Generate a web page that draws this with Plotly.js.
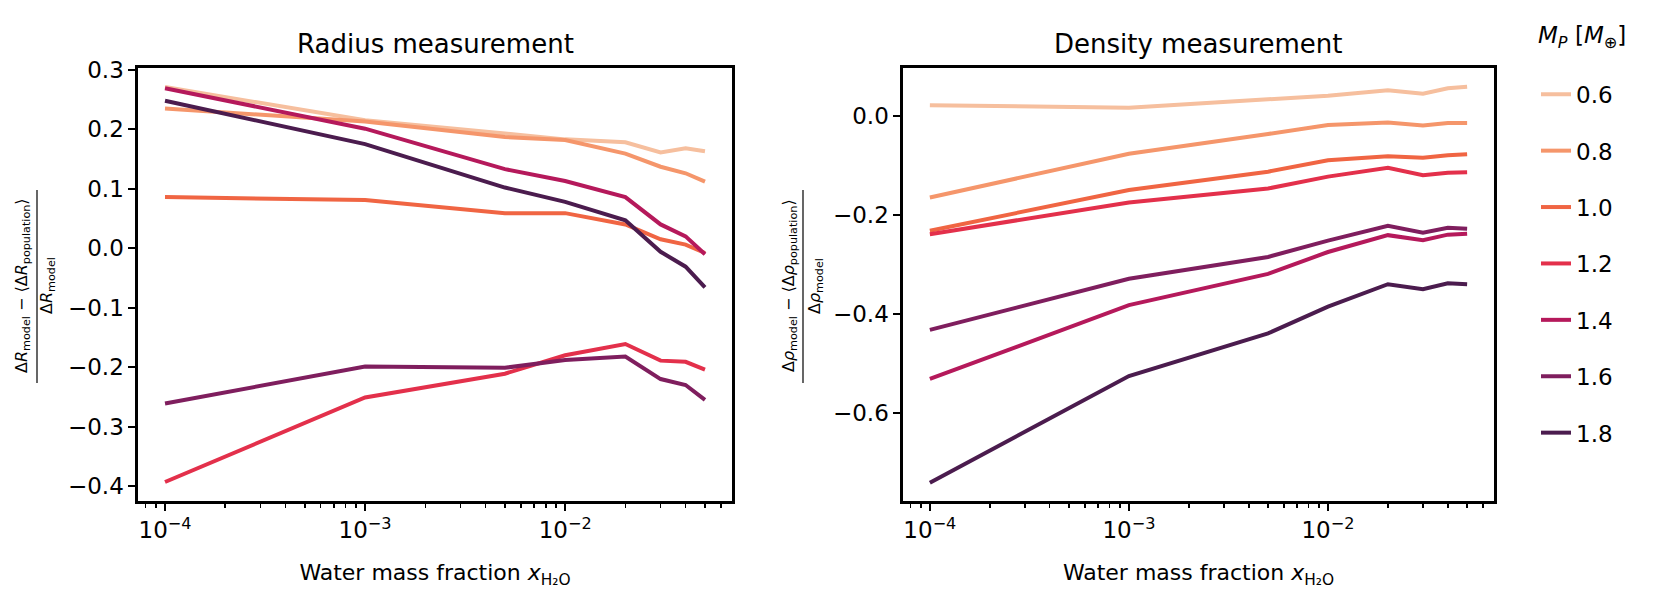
<!DOCTYPE html>
<html><head><meta charset="utf-8">
<script src="https://cdn.plot.ly/plotly-3.0.1.min.js"></script>
<style>body{margin:0;background:#fff}#chart{width:1660px;height:589px}</style>
</head><body><div id="chart"></div>
<script>
// ---- data ----
const xH2O = [1e-4, 1e-3, 5e-3, 1e-2, 2e-2, 3e-2, 4e-2, 5e-2];
const massLabels = ['0.6', '0.8', '1.0', '1.2', '1.4', '1.6', '1.8'];
const lineColors = ['#f6bf9e', '#f5966b', '#f06543', '#e3304b', '#b5195b', '#7f1e5e', '#4b1c4e'];

const radius06 = [0.271, 0.215, 0.193, 0.183, 0.178, 0.161, 0.168, 0.163];
const radius08 = [0.235, 0.213, 0.187, 0.182, 0.159, 0.137, 0.126, 0.112];
const radius10 = [0.086, 0.081, 0.059, 0.059, 0.040, 0.015, 0.006, -0.008];
const radius12 = [-0.393, -0.251, -0.211, -0.180, -0.161, -0.189, -0.191, -0.204];
const radius14 = [0.269, 0.201, 0.133, 0.113, 0.086, 0.040, 0.020, -0.010];
const radius16 = [-0.261, -0.199, -0.201, -0.188, -0.182, -0.220, -0.230, -0.255];
const radius18 = [0.248, 0.175, 0.102, 0.078, 0.047, -0.006, -0.031, -0.066];

const density06 = [0.021, 0.016, 0.033, 0.040, 0.051, 0.044, 0.055, 0.058];
const density08 = [-0.165, -0.077, -0.037, -0.019, -0.014, -0.020, -0.015, -0.015];
const density10 = [-0.232, -0.150, -0.113, -0.090, -0.082, -0.085, -0.080, -0.078];
const density12 = [-0.239, -0.175, -0.147, -0.123, -0.105, -0.120, -0.115, -0.114];
const density14 = [-0.531, -0.382, -0.319, -0.275, -0.241, -0.251, -0.240, -0.238];
const density16 = [-0.432, -0.329, -0.285, -0.252, -0.222, -0.236, -0.226, -0.228];
const density18 = [-0.740, -0.525, -0.439, -0.385, -0.340, -0.350, -0.338, -0.340];

const radiusSeries = [radius06, radius08, radius10, radius12, radius14, radius16, radius18];
const densitySeries = [density06, density08, density10, density12, density14, density16, density18];

const xTickVals = [1e-4, 1e-3, 1e-2];
const xTickText = ['10<sup>−4</sup>', '10<sup>−3</sup>', '10<sup>−2</sup>'];

// minor tick positions (2..9 times each decade)
const minorVals = [];
[1e-5, 1e-4, 1e-3, 1e-2].forEach(d => { for (let k = 2; k <= 9; k++) minorVals.push(k * d); });

// ---- traces ----
const traces = [];
massLabels.forEach((lab, i) => {
  traces.push({
    x: xH2O, y: radiusSeries[i], type: 'scatter', mode: 'lines',
    name: lab, legendgroup: lab, showlegend: true,
    line: {color: lineColors[i], width: 4},
    xaxis: 'x', yaxis: 'y'
  });
});
massLabels.forEach((lab, i) => {
  traces.push({
    x: xH2O, y: densitySeries[i], type: 'scatter', mode: 'lines',
    name: lab, legendgroup: lab, showlegend: false,
    line: {color: lineColors[i], width: 4},
    xaxis: 'x2', yaxis: 'y2'
  });
});

// ---- layout ----
const FONT = 'DejaVu Sans, Liberation Sans, sans-serif';
const L = 138, R = 166, T = 68, B = 88, W = 1660, H = 589;
const PW = W - L - R, PH = H - T - B;
const px = x => (x - L) / PW;
const py = y => (H - B - y) / PH;

function xAxis(domain, anchor) {
  return {
    domain: domain, anchor: anchor, type: 'log', range: [-4.135, -1.166],
    tickmode: 'array', tickvals: xTickVals, ticktext: xTickText,
    ticks: 'outside', ticklen: 7, tickwidth: 2, tickcolor: '#000',
    minor: {tickmode: 'array', tickvals: minorVals, ticks: 'outside', ticklen: 4, tickwidth: 1.5, tickcolor: '#000', showgrid: false},
    showline: true, linewidth: 2.6, linecolor: '#000', mirror: true,
    showgrid: false, zeroline: false,
    tickfont: {size: 23, family: FONT, color: '#000'},
    title: {text: 'Water mass fraction <i>x</i><sub>H₂O</sub>', font: {size: 22, family: FONT, color: '#000'}, standoff: 28}
  };
}
function yAxis(range, dtick, anchor) {
  return {
    anchor: anchor, range: range, tickmode: 'linear', tick0: 0, dtick: dtick, tickformat: '.1f',
    ticks: 'outside', ticklen: 7, tickwidth: 2, tickcolor: '#000',
    showline: true, linewidth: 2.6, linecolor: '#000', mirror: true,
    showgrid: false, zeroline: false,
    tickfont: {size: 23, family: FONT, color: '#000'}
  };
}

const fracFont = {size: 16, family: FONT, color: '#000'};
const annotations = [
  {text: 'Radius measurement', x: px(435), y: py(44), xref: 'paper', yref: 'paper', showarrow: false,
   xanchor: 'center', yanchor: 'middle', font: {size: 26, family: FONT, color: '#000'}},
  {text: 'Density measurement', x: px(1198), y: py(44), xref: 'paper', yref: 'paper', showarrow: false,
   xanchor: 'center', yanchor: 'middle', font: {size: 26, family: FONT, color: '#000'}},
  {text: 'Δ<i>R</i><sub>model</sub> − ⟨Δ<i>R</i><sub>population</sub>⟩', x: px(22), y: py(286), xref: 'paper', yref: 'paper',
   showarrow: false, textangle: -90, xanchor: 'center', yanchor: 'middle', font: fracFont},
  {text: 'Δ<i>R</i><sub>model</sub>', x: px(47), y: py(286), xref: 'paper', yref: 'paper',
   showarrow: false, textangle: -90, xanchor: 'center', yanchor: 'middle', font: fracFont},
  {text: 'Δ<i>ρ</i><sub>model</sub> − ⟨Δ<i>ρ</i><sub>population</sub>⟩', x: px(789), y: py(286), xref: 'paper', yref: 'paper',
   showarrow: false, textangle: -90, xanchor: 'center', yanchor: 'middle', font: fracFont},
  {text: 'Δ<i>ρ</i><sub>model</sub>', x: px(815), y: py(286), xref: 'paper', yref: 'paper',
   showarrow: false, textangle: -90, xanchor: 'center', yanchor: 'middle', font: fracFont}
];
const shapes = [
  {type: 'line', xref: 'paper', yref: 'paper', x0: px(37), x1: px(37), y0: py(190), y1: py(383), line: {color: '#000', width: 1.2}},
  {type: 'line', xref: 'paper', yref: 'paper', x0: px(803), x1: px(803), y0: py(190), y1: py(383), line: {color: '#000', width: 1.2}}
];

const layout = {
  width: W, height: H,
  margin: {l: L, r: R, t: T, b: B, pad: 0},
  paper_bgcolor: '#fff', plot_bgcolor: '#fff',
  font: {family: FONT, color: '#000'},
  xaxis: xAxis([0, px(732)], 'y'),
  yaxis: yAxis([-0.425, 0.303], 0.1, 'x'),
  xaxis2: xAxis([px(903), 1], 'y2'),
  yaxis2: yAxis([-0.777, 0.096], 0.2, 'x2'),
  showlegend: true,
  legend: {
    x: px(1536), y: py(13), xanchor: 'left', yanchor: 'top',
    traceorder: 'grouped', tracegroupgap: 23.5, itemwidth: 30, maxheight: 580,
    font: {size: 23, family: FONT, color: '#000'},
    title: {text: '<i>M<sub>P</sub></i> [<i>M</i><sub>⊕</sub>]<br> ', side: 'top', font: {size: 23, family: FONT, color: '#000'}},
    bgcolor: 'rgba(0,0,0,0)', borderwidth: 0
  },
  annotations: annotations,
  shapes: shapes
};

Plotly.newPlot('chart', traces, layout, {displayModeBar: false, staticPlot: true});
</script>
</body></html>
